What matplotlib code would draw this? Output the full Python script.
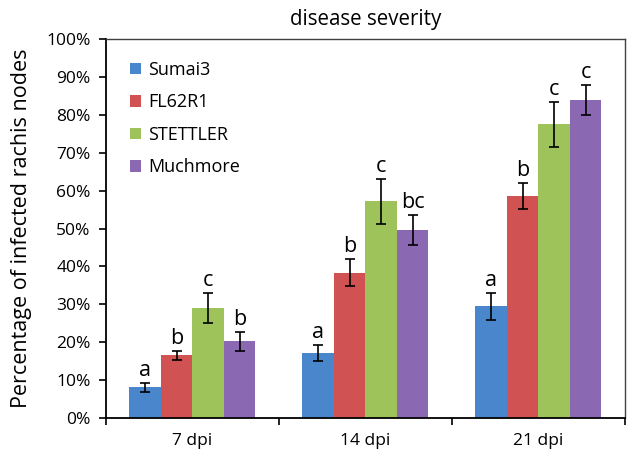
import numpy as np
import matplotlib.pyplot as plt
from matplotlib.ticker import PercentFormatter, FixedLocator

plt.rcParams['font.family'] = ['Open Sans', 'DejaVu Sans']

groups = ['7 dpi', '14 dpi', '21 dpi']
cultivars = ['Sumai3', 'FL62R1', 'STETTLER', 'Muchmore']
colors = ['#4A86CC', '#D05252', '#9DC35A', '#8A68B2']

# percent infected rachis nodes, per cultivar across 7/14/21 dpi
means = {
    'Sumai3':   [8.2, 17.2, 29.5],
    'FL62R1':   [16.6, 38.4, 58.6],
    'STETTLER': [29.0, 57.2, 77.5],
    'Muchmore': [20.3, 49.6, 84.0],
}
errs = {
    'Sumai3':   [1.2, 2.0, 3.5],
    'FL62R1':   [1.2, 3.5, 3.5],
    'STETTLER': [4.0, 6.0, 6.0],
    'Muchmore': [2.5, 4.0, 4.0],
}
letters = {
    'Sumai3':   ['a', 'a', 'a'],
    'FL62R1':   ['b', 'b', 'b'],
    'STETTLER': ['c', 'c', 'c'],
    'Muchmore': ['b', 'bc', 'c'],
}

fig = plt.figure(figsize=(6.3, 4.59), dpi=100)
ax = fig.add_axes([0.168, 0.089, 0.824, 0.826])

x = np.arange(len(groups))
w = 0.182
for i, c in enumerate(cultivars):
    pos = x + (i - 1.5) * w
    ax.bar(pos, means[c], width=w, color=colors[i], label=c, zorder=2)
    ax.errorbar(pos, means[c], yerr=errs[c], fmt='none', ecolor='black',
                elinewidth=1.2, capsize=3.5, capthick=1.2, zorder=3)
    for p, m, e, t in zip(pos, means[c], errs[c], letters[c]):
        ax.text(p, m + e + 0.5, t, ha='center', va='bottom', fontsize=15.5)

ax.set_xlim(-0.5, 2.5)
ax.set_ylim(0, 100)
ax.set_yticks(np.arange(0, 101, 10))
ax.yaxis.set_major_formatter(PercentFormatter(decimals=0))
ax.set_xticks(x)
ax.set_xticklabels(groups)
ax.xaxis.set_minor_locator(FixedLocator([-0.5, 0.5, 1.5, 2.5]))
ax.tick_params(axis='x', which='major', length=0, pad=11, labelsize=12.5)
ax.tick_params(axis='x', which='minor', length=5, width=1.2, direction='out')
ax.tick_params(axis='y', length=5, width=1.2, direction='out', labelsize=12.5,
               pad=6)

for s in ['left', 'bottom']:
    ax.spines[s].set_linewidth(1.3)
    ax.spines[s].set_color('black')
for s in ['top', 'right']:
    ax.spines[s].set_linewidth(1.0)
    ax.spines[s].set_color('#404040')

ax.set_ylabel('Percentage of infected rachis nodes', fontsize=15.5, labelpad=10)
ax.set_title('disease severity', fontsize=14.8, pad=10)

ax.legend(loc='upper left', frameon=False, fontsize=13, handlelength=0.6,
          handleheight=0.6, handletextpad=0.4, labelspacing=0.8,
          bbox_to_anchor=(0.015, 0.985))

fig.savefig('out.png', dpi=100)
